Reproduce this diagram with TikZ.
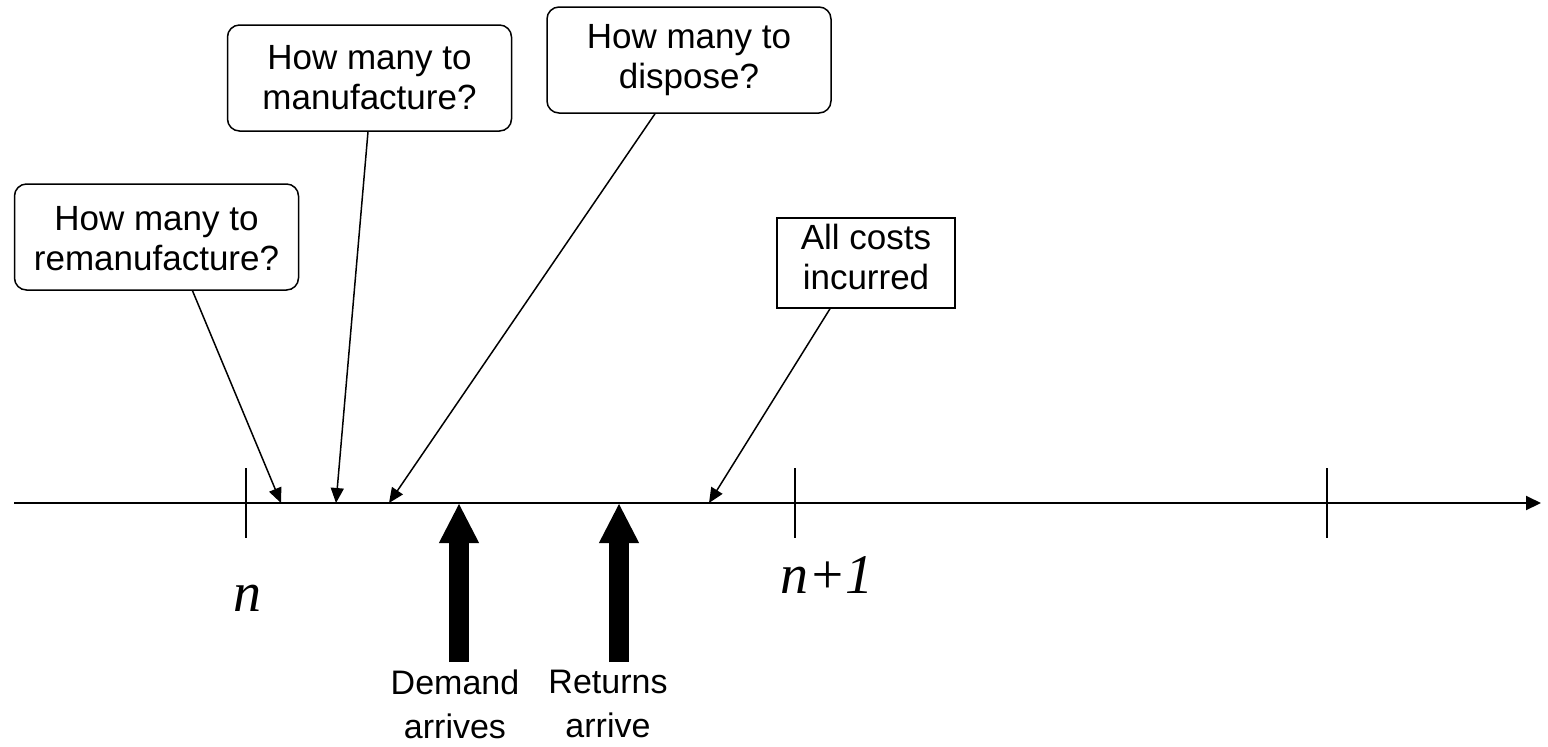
\documentclass[tikz,border=0pt]{standalone}
\usepackage{fontspec}
\setmainfont{Liberation Sans}
\newfontfamily\serifit{Liberation Serif}
\usetikzlibrary{arrows.meta}

\begin{document}
\begin{tikzpicture}[x=0.5pt,y=-0.5pt,>={Triangle[length=7.5pt,width=6.5pt]},
  thin line/.style={line width=0.75pt},
  ask node/.style={rectangle,rounded corners=6pt,fill=white,draw,line width=0.75pt,align=center,
    font=\fontsize{17.5pt}{20pt}\selectfont,minimum width=142pt,minimum height=53pt,inner sep=0pt},
  cost node/.style={rectangle,fill=white,draw,line width=0.75pt,align=center,
    font=\fontsize{17.5pt}{20pt}\selectfont,minimum width=89pt,minimum height=45pt,inner sep=0pt},
  period label/.style={font=\serifit\itshape\fontsize{28pt}{30pt}\selectfont},
  event label/.style={align=center,font=\fontsize{17pt}{22pt}\selectfont},
  big arrow/.style={line width=10pt,-{Triangle[length=20pt,width=18.5pt]}}]

  \useasboundingbox (0,0) rectangle (1548,746);

  % time axis with period ticks
  \coordinate (axis start) at (14,503);
  \coordinate (axis end) at (1541,503);
  \draw[line width=1pt,-{Triangle[length=7.5pt,width=7pt]}] (axis start) -- (axis end);
  \foreach \t in {246,795,1327}
    \draw[thin line] (\t,468) -- (\t,538);

  \node[period label] (n0) at (247,598) {n};
  \node[period label] (n1) at (827,575) {n+1};

  % points on the axis
  \coordinate (rem pt) at (281,503);
  \coordinate (man pt) at (336,503);
  \coordinate (dis pt) at (389,503);
  \coordinate (dem pt) at (459,503);
  \coordinate (ret pt) at (619,503);
  \coordinate (cost pt) at (709,503);

  % decisions and costs
  \node[ask node] (rem) at (156.5,237) {\strut How many to\\remanufacture?};
  \node[ask node] (man) at (369.5,78) {How many to\\manufacture?};
  \node[ask node] (dis) at (689,60) {How many to\\dispose?};
  \node[cost node] (cost) at (866,263) {All costs\\incurred\strut};

  \path[thin line,->]
    ([xshift=18pt]rem.south) edge (rem pt)
    ([xshift=-0.75pt]man.south) edge (man pt)
    ([xshift=-17pt]dis.south) edge (dis pt)
    ([xshift=-18pt]cost.south) edge (cost pt)
    ;

  % random events
  \node[event label] (dem txt) at (455,704) {Demand\\arrives};
  \node[event label] (ret txt) at (608,704) {Returns\\arrive};
  \coordinate (dem base) at (459,662);
  \coordinate (ret base) at (619,662);
  \draw[big arrow] (dem base) -- (dem pt);
  \draw[big arrow] (ret base) -- (ret pt);

\end{tikzpicture}
\end{document}
